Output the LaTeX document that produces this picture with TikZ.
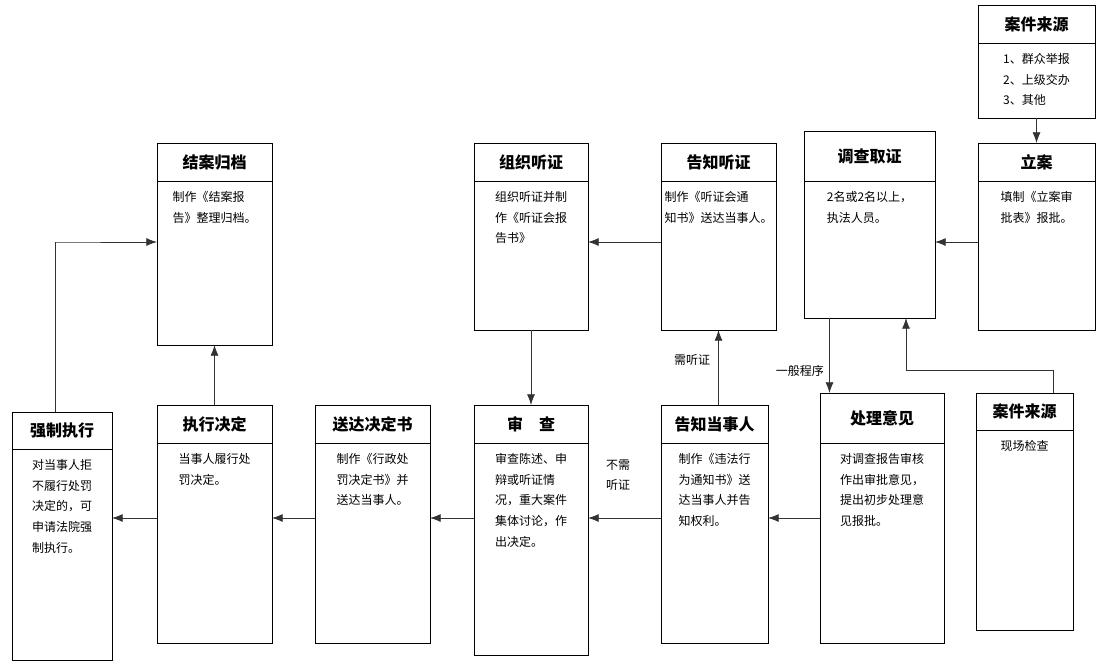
\documentclass[tikz,border=0pt]{standalone}
\usepackage{fontspec}
\setmainfont{Noto Sans CJK SC}
\usetikzlibrary{arrows.meta}
\tikzset{%
  >={Latex[length=8pt,width=6pt]},
  box/.style={draw,semithick,inner sep=0pt,outer sep=0pt},
  head/.style={font=\fontsize{12}{14}\selectfont\bfseries,inner sep=0pt},
  body/.style={font=\fontsize{9}{15.5}\selectfont,align=left,inner sep=0pt},
  link/.style={->,semithick,draw=black!80},
  lbl/.style={font=\fontsize{9}{15}\selectfont,align=left,inner sep=0pt}
}
% #1 name, #2-#5 left top right bottom, #6 header line, #7 title, #8 text
\newcommand\stage[8]{%
  \node[box,minimum width={(#4-#2)*0.75pt},minimum height={(#5-#3)*0.75pt}]
    (#1) at ({(#2+#4)/2},{(#3+#5)/2}) {};
  \draw[semithick] (#2,#6) -- (#4,#6);
  \node[head] (#1-head) at ({(#2+#4)/2},{(#3+#6)/2}) {#7};
  \node[body,anchor=north] (#1-text) at ({(#2+#4)/2},#6+10) {#8};
}
\begin{document}
\begin{tikzpicture}[x=0.75pt,y=-0.75pt]
	\useasboundingbox (0,0) rectangle (1102,665);
	
	%% top row
	\stage{source}{978}{5}{1095}{118}{43}{案件来源}{1、群众举报\\2、上级交办\\3、其他}
	\stage{filing}{978}{143}{1095}{330}{181}{立案}{填制《立案审\\批表》报批。}
	\stage{survey}{804}{131}{935}{318}{181}{调查取证}{2名或2名以上，\\执法人员。}
	\stage{notehear}{661}{143}{776}{330}{181}{告知听证}{制作《听证会通\\知书》送达当事人。}
	\stage{hearing}{474}{143}{588}{330}{181}{组织听证}{组织听证并制\\作《听证会报\\告书》}
	\stage{archive}{157}{143}{272}{345}{181}{结案归档}{制作《结案报\\告》整理归档。}
	
	%% bottom row
	\stage{enforce}{12}{412}{112}{660}{449}{强制执行}{对当事人拒\\不履行处罚\\决定的，可\\申请法院强\\制执行。}
	\stage{execute}{157}{405}{272}{643}{443}{执行决定}{当事人履行处\\罚决定。}
	\stage{deliver}{315}{405}{430}{643}{443}{送达决定书}{制作《行政处\\罚决定书》并\\送达当事人。}
	\stage{review}{474}{405}{588}{655}{443}{审\quad 查}{审查陈述、申\\辩或听证情\\况，重大案件\\集体讨论，作\\出决定。}
	\stage{noteparty}{661}{405}{768}{643}{443}{告知当事人}{制作《违法行\\为通知书》送\\达当事人并告\\知权利。}
	\stage{opinion}{820}{393}{944}{643}{443}{处理意见}{对调查报告审核\\作出审批意见，\\提出初步处理意\\见报批。}
	\stage{spot}{976}{393}{1073}{630}{430}{案件来源}{现场检查}
	
	\coordinate (rowA) at (0,242);
	\coordinate (rowB) at (0,518);
	\coordinate (bend) at (906,370);
	\coordinate (corner) at (55,242);
	
	%% connectors
	\draw[link] (source) -- (filing);
	\draw[link] (filing.west |- rowA) -- (survey.east |- rowA);
	\draw[link] (notehear.west |- rowA) -- (hearing.east |- rowA);
	\draw[link] ([xshift=-30]survey.south) -- ([xshift=-30]survey.south |- opinion.north)
	  node[lbl,pos=0.7,left=4pt] {一般程序};
	\draw[link] ([xshift=58]spot.north west) |- (bend) -- (bend |- survey.south);
	\draw[link] (opinion.west |- rowB) -- (noteparty.east |- rowB);
	\draw[link] (noteparty.west |- rowB) -- (review.east |- rowB);
	\node[lbl] (nohear) at (618,475) {不需\\听证};
	\draw[link] ([xshift=3]noteparty.north) -- ([xshift=3]noteparty.north |- notehear.south)
	  node[lbl,pos=0.6,left=6pt] {需听证};
	\draw[link] (hearing.south) -- (review.north);
	\draw[link] (review.west |- rowB) -- (deliver.east |- rowB);
	\draw[link] (deliver.west |- rowB) -- (execute.east |- rowB);
	\draw[link] (execute.west |- rowB) -- (enforce.east |- rowB);
	\draw[link] (execute.north) -- (archive.south);
	\draw[link] ([xshift=-5]enforce.north) |- (corner) -- (archive.west |- rowA);
	
\end{tikzpicture}
\end{document}
